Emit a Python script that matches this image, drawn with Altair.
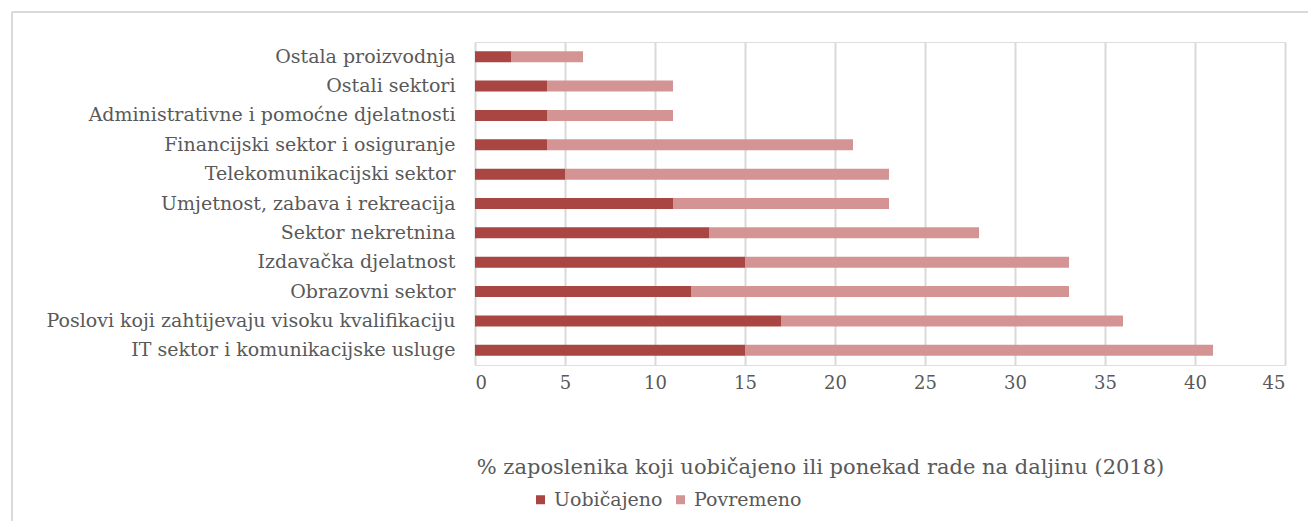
import altair as alt
import pandas as pd

categories = [
    "Ostala proizvodnja",
    "Ostali sektori",
    "Administrativne i pomoćne djelatnosti",
    "Financijski sektor i osiguranje",
    "Telekomunikacijski sektor",
    "Umjetnost, zabava i rekreacija",
    "Sektor nekretnina",
    "Izdavačka djelatnost",
    "Obrazovni sektor",
    "Poslovi koji zahtijevaju visoku kvalifikaciju",
    "IT sektor i komunikacijske usluge",
]
uobicajeno = [2, 4, 4, 4, 5, 11, 13, 15, 12, 17, 15]
povremeno = [4, 7, 7, 17, 18, 12, 15, 18, 21, 19, 26]
series = ["Uobičajeno", "Povremeno"]
colors = ["#A94643", "#D49493"]
x_ticks = [0, 5, 10, 15, 20, 25, 30, 35, 40, 45]

rows = []
for c, u, p in zip(categories, uobicajeno, povremeno):
    rows.append({"Sektor": c, "Vrsta": series[0], "Vrijednost": u, "ord": 0})
    rows.append({"Sektor": c, "Vrsta": series[1], "Vrijednost": p, "ord": 1})
df = pd.DataFrame(rows)

FONT = "DejaVu Serif"
TXT = "#595959"

bars = alt.Chart(df).mark_bar(size=11).encode(
    y=alt.Y("Sektor:N", sort=categories,
            axis=alt.Axis(title=None, ticks=False, domain=False, labelPadding=20,
                          labelFontSize=19, labelFont=FONT, labelColor=TXT,
                          labelLimit=600)),
    x=alt.X("Vrijednost:Q", stack="zero",
            scale=alt.Scale(domain=[0, 45], nice=False),
            axis=alt.Axis(values=x_ticks, ticks=False, domain=False, grid=True,
                          gridColor="#d9d9d9", gridWidth=2,
                          labelPadding=9, labelFontSize=18, labelFont=FONT,
                          labelColor=TXT,
                          title="% zaposlenika koji uobičajeno ili ponekad rade na daljinu (2018)",
                          titleFont=FONT, titleFontSize=21, titleFontWeight="normal",
                          titleColor=TXT, titleX=345, titleY=102,
                          titleAlign="center", titleBaseline="middle")),
    color=alt.Color("Vrsta:N", sort=series,
                    scale=alt.Scale(domain=series, range=colors),
                    legend=alt.Legend(title=None, orient="none", direction="horizontal",
                                      legendX=56, legendY=448,
                                      symbolType="square", symbolSize=81,
                                      symbolStrokeWidth=0,
                                      labelFont=FONT, labelFontSize=19,
                                      labelColor=TXT, columnPadding=8,
                                      labelOffset=4)),
    order=alt.Order("ord:Q"),
)

frame_df = pd.DataFrame({"k": [0]})
top_border = alt.Chart(frame_df).mark_rule(color="#d9d9d9", strokeWidth=2).encode(
    x=alt.value(-463), x2=alt.value(1000), y=alt.value(-30))
left_border = alt.Chart(frame_df).mark_rule(color="#d9d9d9", strokeWidth=2).encode(
    x=alt.value(-463), y=alt.value(-30), y2=alt.value(500))

chart = alt.layer(bars, top_border, left_border).properties(
    width=810, height=323,
    autosize=alt.AutoSizeParams(type="none"),
    padding={"left": 467, "top": 34, "right": 23, "bottom": 156},
).configure_view(stroke=None).configure(background="white")

chart.save("out.html", embed_options={"renderer": "svg", "actions": False})
